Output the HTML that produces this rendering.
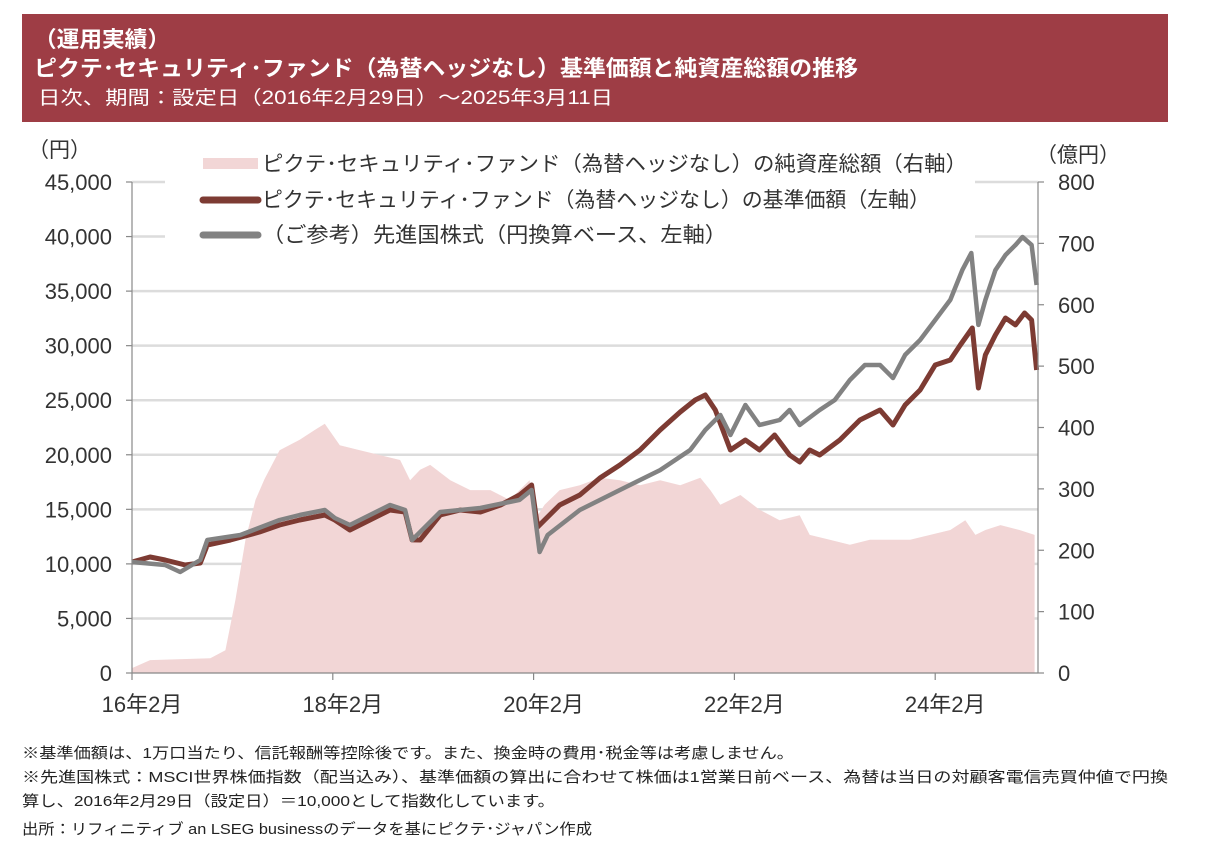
<!DOCTYPE html>
<html><head><meta charset="utf-8">
<style>
html,body{margin:0;padding:0;background:#fff;}
svg{display:block;font-family:"Liberation Sans","Noto Sans CJK JP",sans-serif;}
</style></head>
<body>
<svg id="chart" width="1207" height="849" viewBox="0 0 1207 849">
  <rect x="22" y="14" width="1146" height="108" fill="#9e3d45"/>
  <text x="34" y="47" fill="#fff" font-size="22" font-weight="bold" textLength="136" lengthAdjust="spacingAndGlyphs">（運用実績）</text>
  <text x="34" y="76" fill="#fff" font-size="22" font-weight="bold" textLength="824" lengthAdjust="spacingAndGlyphs">ピクテ･セキュリティ･ファンド（為替ヘッジなし）基準価額と純資産総額の推移</text>
  <text x="38" y="104" fill="#fff" font-size="19" textLength="575" lengthAdjust="spacingAndGlyphs">日次、期間：設定日（2016年2月29日）～2025年3月11日</text>

  <g id="grid"></g>
  <path id="area" fill="#f2d6d6"/>
  <path id="fund" fill="none" stroke="#7d3b33" stroke-width="5" stroke-linejoin="round"/>
  <path id="msci" fill="none" stroke="#828282" stroke-width="4.5" stroke-linejoin="round"/>

  <rect x="165" y="145" width="810" height="105" fill="#fff"/>
  <g>
    <g>
      <rect x="203" y="158" width="55" height="11" fill="#f2d6d6"/>
      <text x="262" y="171" font-size="21" fill="#333" textLength="705" lengthAdjust="spacingAndGlyphs">ピクテ･セキュリティ･ファンド（為替ヘッジなし）の純資産総額（右軸）</text>
    </g>
    <g>
      <line x1="203" y1="200" x2="258" y2="200" stroke="#7d3b33" stroke-width="7" stroke-linecap="round"/>
      <text x="262" y="207" font-size="21" fill="#333" textLength="668" lengthAdjust="spacingAndGlyphs">ピクテ･セキュリティ･ファンド（為替ヘッジなし）の基準価額（左軸）</text>
    </g>
    <g>
      <line x1="203" y1="235" x2="258" y2="235" stroke="#828282" stroke-width="7" stroke-linecap="round"/>
      <text x="262" y="242" font-size="21" fill="#333" textLength="465" lengthAdjust="spacingAndGlyphs">（ご参考）先進国株式（円換算ベース、左軸）</text>
    </g>
  </g>

  <g id="axes"></g>
  <text x="28" y="157" font-size="21" fill="#333">（円）</text>
  <text x="1036" y="162" font-size="21" fill="#333">（億円）</text>

  <g>
    <text x="22" y="758" font-size="15" fill="#222" textLength="772" lengthAdjust="spacingAndGlyphs">※基準価額は、1万口当たり、信託報酬等控除後です。また、換金時の費用･税金等は考慮しません。</text>
    <text x="22" y="782" font-size="15" fill="#222" textLength="1146" lengthAdjust="spacingAndGlyphs">※先進国株式：MSCI世界株価指数（配当込み）、基準価額の算出に合わせて株価は1営業日前ベース、為替は当日の対顧客電信売買仲値で円換</text>
    <text x="22" y="806" font-size="15" fill="#222" textLength="533" lengthAdjust="spacingAndGlyphs">算し、2016年2月29日（設定日）＝10,000として指数化しています。</text>
    <text x="22" y="834" font-size="15" fill="#222" textLength="570" lengthAdjust="spacingAndGlyphs">出所：リフィニティブ an LSEG businessのデータを基にピクテ･ジャパン作成</text>
  </g>
</svg>
<script>
const leftTicks = [0,5000,10000,15000,20000,25000,30000,35000,40000,45000];
const rightTicks = [0,100,200,300,400,500,600,700,800];
const xTickYears = [2016.16,2018.16,2020.16,2022.16,2024.16];
const xTickLabels = ["16年2月","18年2月","20年2月","22年2月","24年2月"];

const fundDates = [2016.16,2016.34,2016.49,2016.69,2016.84,2016.91,2017.14,2017.43,2017.63,2017.83,2018.08,2018.18,2018.33,2018.53,2018.73,2018.88,2018.95,2019.03,2019.23,2019.43,2019.63,2019.83,2020.02,2020.14,2020.20,2020.27,2020.42,2020.62,2020.82,2021.02,2021.22,2021.42,2021.62,2021.77,2021.87,2021.97,2022.12,2022.27,2022.41,2022.56,2022.71,2022.81,2022.91,2023.01,2023.21,2023.41,2023.61,2023.74,2023.86,2024.01,2024.16,2024.31,2024.41,2024.53,2024.59,2024.66,2024.76,2024.86,2024.96,2025.05,2025.12,2025.17];
const fundValues = [10170,10630,10360,9900,10080,11730,12190,12920,13560,14020,14480,14020,13110,14020,14940,14760,12200,12190,14480,14940,14760,15400,16310,17230,13380,14020,15400,16310,17870,19060,20440,22270,23920,25020,25480,24100,20440,21350,20440,21810,19980,19340,20440,19980,21350,23190,24100,22730,24560,25940,28230,28690,30060,31620,26120,29150,30980,32540,31900,32990,32350,27770];

const msciDates = [2016.16,2016.49,2016.64,2016.84,2016.91,2017.24,2017.63,2017.83,2018.08,2018.18,2018.33,2018.73,2018.88,2018.95,2019.23,2019.63,2020.02,2020.14,2020.22,2020.30,2020.62,2021.02,2021.42,2021.72,2021.87,2022.02,2022.12,2022.27,2022.41,2022.61,2022.71,2022.81,2023.01,2023.16,2023.31,2023.46,2023.61,2023.74,2023.86,2024.01,2024.16,2024.31,2024.43,2024.52,2024.59,2024.66,2024.76,2024.86,2024.96,2025.03,2025.12,2025.17];
const msciValues = [10170,9900,9260,10360,12190,12650,14020,14480,14940,14210,13560,15400,14940,12190,14760,15120,15860,16770,11090,12650,14940,16770,18600,20440,22270,23650,21810,24560,22730,23190,24100,22730,24100,25020,26850,28230,28230,27040,29150,30520,32350,34190,36930,38490,31900,34190,36930,38310,39230,39960,39230,35560];

const assetDates = [2016.16,2016.34,2016.94,2017.09,2017.19,2017.29,2017.39,2017.48,2017.63,2017.83,2017.98,2018.08,2018.23,2018.43,2018.63,2018.83,2018.93,2019.03,2019.13,2019.33,2019.53,2019.73,2019.92,2020.02,2020.12,2020.17,2020.27,2020.42,2020.62,2020.82,2021.02,2021.22,2021.42,2021.62,2021.82,2021.92,2022.02,2022.22,2022.41,2022.61,2022.81,2022.91,2023.11,2023.31,2023.51,2023.71,2023.91,2024.11,2024.31,2024.46,2024.56,2024.66,2024.81,2025.00,2025.15];
const assetValues = [8,21,24,37,119,217,282,316,363,380,396,406,371,363,355,347,314,331,339,314,298,298,282,298,314,249,274,298,306,318,314,306,314,306,318,298,274,290,266,249,257,225,217,209,217,217,217,225,233,249,225,233,241,233,225];

const X0=132, PXY=100.4, Y0=673, H=491, XR=1038;
const xs = t => X0 + (t-2016.16)*PXY;
const yl = v => Y0 - v/45000*H;
const yr = v => Y0 - v/800*H;
const NS="http://www.w3.org/2000/svg";

function mk(tag, attrs, parent){ const e=document.createElementNS(NS,tag); for(const k in attrs) e.setAttribute(k,attrs[k]); parent.appendChild(e); return e; }

const grid=document.getElementById('grid');
leftTicks.forEach(v=>{ if(v===0) return;
  const l=mk('line',{x1:X0,x2:XR,y1:yl(v),y2:yl(v),stroke:'#dcdcdc','stroke-width':2.5},grid);
  
  
});

const axes=document.getElementById('axes');
const la=mk('line',{x1:X0,x2:X0,y1:yl(45000),y2:Y0,stroke:'#888','stroke-width':1.2},axes);


const ra=mk('line',{x1:XR,x2:XR,y1:yr(800),y2:Y0,stroke:'#888','stroke-width':1.2},axes);


const xa=mk('line',{x1:X0,x2:XR,y1:Y0,y2:Y0,stroke:'#888','stroke-width':1.2},axes);



leftTicks.forEach(v=>{
  mk('line',{x1:X0-6,x2:X0,y1:yl(v),y2:yl(v),stroke:'#888','stroke-width':1.2},axes);
  const t=mk('text',{x:112,y:yl(v)+8,'font-size':22,fill:'#333','text-anchor':'end'},axes);
  t.textContent=v.toLocaleString('en-US');
  
  
});
rightTicks.forEach(v=>{
  mk('line',{x1:XR,x2:XR+6,y1:yr(v),y2:yr(v),stroke:'#888','stroke-width':1.2},axes);
  const t=mk('text',{x:1058,y:yr(v)+8,'font-size':22,fill:'#333'},axes);
  t.textContent=String(v);
  
  
});
xTickYears.forEach((yv,i)=>{
  mk('line',{x1:xs(yv),x2:xs(yv),y1:Y0,y2:Y0+7,stroke:'#888','stroke-width':1.2},axes);
  const t=mk('text',{x:xs(yv)+10,y:712,'font-size':22,fill:'#333','text-anchor':'middle'},axes);
  t.textContent=xTickLabels[i];
  
  
});

function line(dates, vals, f){ return dates.map((d,i)=>(i?'L':'M')+xs(d).toFixed(1)+','+f(vals[i]).toFixed(1)).join(''); }
document.getElementById('area').setAttribute('d', line(assetDates,assetValues,yr)+'L'+xs(assetDates[assetDates.length-1]).toFixed(1)+','+Y0+'L'+xs(assetDates[0]).toFixed(1)+','+Y0+'Z');
document.getElementById('fund').setAttribute('d', line(fundDates,fundValues,yl));
document.getElementById('msci').setAttribute('d', line(msciDates,msciValues,yl));
</script>
</body></html>
